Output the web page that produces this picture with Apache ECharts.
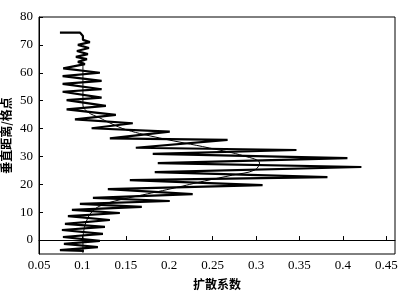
<!DOCTYPE html>
<html><head><meta charset="utf-8">
<script src="https://cdn.jsdelivr.net/npm/echarts@6/dist/echarts.min.js"></script>
<style>html,body{margin:0;padding:0;background:#fff}#c{width:406px;height:295px}</style>
</head><body><div id="c"></div>
<script>
// zigzag profile (diffusion coefficient, vertical distance)
const zigX = [0.0741,0.0971,0.1006,0.1006,0.1086,0.0948,0.1075,0.0937,0.1063,0.0925,0.1052,0.0948,0.1029,
  0.0779,0.1201,0.0772,0.1221,0.0772,0.1221,0.0772,0.1221,0.0818,0.1270,0.0818,0.1385,0.0914,0.1580,0.1106,0.2006,
  0.1316,0.2672,0.1615,0.3465,0.1810,0.4052,0.1868,0.4213,0.1833,0.3822,0.1546,0.3075,0.1293,0.2270,0.1121,0.2006,
  0.0971,0.1684,0.0879,0.1431,0.0833,0.1316,0.0799,0.1259,0.0764,0.1236,0.0776,0.1201,0.0787,0.1178,0.0741,0.1017];
const zigY = [74.4,74.4,73.2,71.8,71.0,70.0,68.9,67.8,66.7,65.7,64.9,63.9,63.1,
  61.6,60.0,58.8,57.1,56.0,54.1,53.2,51.1,50.2,48.1,46.9,44.9,43.3,41.9,40.1,38.9,
  36.5,35.9,33.1,32.3,30.9,29.4,27.6,26.2,24.4,22.6,21.5,19.7,18.3,16.5,15.1,14.0,
  13.0,11.9,10.8,9.7,8.6,7.2,5.8,4.7,3.6,2.2,1.1,-0.3,-1.4,-2.5,-3.6,-3.9];
// smooth fitted curve
const fitX = [0.1006,0.1006,0.1006,0.1063,0.1201,0.1316,0.1511,0.1891,0.2465,0.2868,0.3040,0.2983,0.2730,0.2408,
  0.2063,0.1695,0.1374,0.1201,0.1109,0.1052,0.1017,0.1006,0.1006];
const fitY = [63.9,53.8,48.4,45.9,43.8,42.0,39.5,36.6,33.0,30.1,27.6,25.1,23.3,21.2,
  18.7,16.2,14.0,12.2,10.1,7.2,3.6,-1.1,-4.6];
const xTicks = [0.05,0.1,0.15,0.2,0.25,0.3,0.35,0.4,0.45];
const yTicks = [0,10,20,30,40,50,60,70,80];

const chart = echarts.init(document.getElementById('c'), null, {renderer:'canvas'});
const serif = 'Liberation Serif';
chart.setOption({
  animation:false,
  backgroundColor:'#fff',
  grid:{left:39,right:11,top:17,bottom:41,show:true,borderColor:'#000',borderWidth:1,
        containLabel:false,outerBoundsMode:'none'},
  xAxis:{type:'value',min:0.05,max:0.46,
    name:'扩散系数',nameLocation:'middle',nameGap:24,nameMoveOverlap:false,
    nameTextStyle:{fontFamily:'Noto Sans CJK SC',fontSize:12,fontWeight:'bold',color:'#000'},
    axisLine:{lineStyle:{color:'#000',width:1}},
    axisTick:{inside:true,length:4,customValues:xTicks,lineStyle:{color:'#000'}},
    axisLabel:{customValues:xTicks,fontFamily:serif,fontSize:13,color:'#000',margin:5},
    splitLine:{show:false}},
  yAxis:{type:'value',min:-5,max:80,
    name:'垂直距离/格点',nameLocation:'middle',nameGap:27,nameRotate:90,nameMoveOverlap:false,
    nameTextStyle:{fontFamily:'Noto Sans CJK SC',fontSize:12,fontWeight:'bold',color:'#000'},
    axisLine:{lineStyle:{color:'#000',width:1}},
    axisTick:{inside:true,length:4,customValues:yTicks,lineStyle:{color:'#000'}},
    axisLabel:{customValues:yTicks,fontFamily:serif,fontSize:13,color:'#000',margin:6},
    splitLine:{show:false}},
  series:[
    {type:'line',data:zigX.map((v,i)=>[v,zigY[i]]),showSymbol:false,symbol:'none',
     lineStyle:{color:'#000',width:2.2}},
    {type:'line',data:fitX.map((v,i)=>[v,fitY[i]]),showSymbol:false,symbol:'none',smooth:0.4,
     lineStyle:{color:'#000',width:1}}
  ]
});
</script></body></html>
